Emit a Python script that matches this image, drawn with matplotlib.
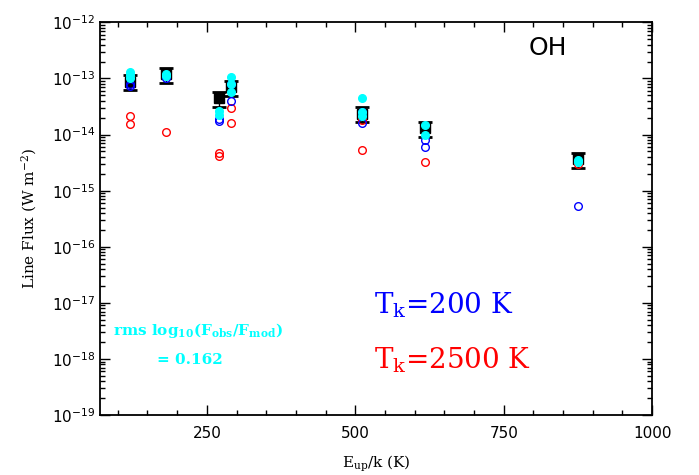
import matplotlib
matplotlib.use('Agg')
import matplotlib.pyplot as plt
from matplotlib.ticker import MultipleLocator, FixedLocator, LogLocator, NullFormatter

# OH lines: upper level energies (K) and observed fluxes (W m^-2)
eup = [120.7, 181.7, 269.8, 290.5, 511.0, 617.6, 875.0]
obs_flux = [8.7e-14, 1.19e-13, 4.4e-14, 6.9e-14, 2.37e-14, 1.3e-14, 3.6e-15]
obs_err = [2.6e-14, 3.6e-14, 1.3e-14, 2.05e-14, 7e-15, 4e-15, 1.1e-15]

# combined model (cyan)
cyan_e = [120.7, 120.7, 120.7, 181.7, 181.7, 269.8, 269.8, 290.5, 290.5, 290.5,
          511.0, 511.0, 511.0, 617.6, 617.6, 875.0, 875.0]
cyan_f = [1.3e-13, 1.15e-13, 1.0e-13, 1.2e-13, 1.1e-13, 2.6e-14, 2.2e-14,
          1.05e-13, 8e-14, 5.7e-14, 4.4e-14, 2.5e-14, 2.1e-14, 1.5e-14, 1.0e-14,
          3.5e-15, 3.2e-15]

# Tk = 200 K component (blue)
blue_e = [120.7, 120.7, 181.7, 269.8, 269.8, 290.5, 290.5, 511.0, 511.0,
          617.6, 617.6, 875.0]
blue_f = [8e-14, 7.2e-14, 1.0e-13, 1.9e-14, 1.75e-14, 8e-14, 4e-14, 2.5e-14,
          1.6e-14, 8e-15, 6e-15, 5.4e-16]

# Tk = 2500 K component (red)
red_e = [120.7, 120.7, 181.7, 269.8, 269.8, 290.5, 290.5, 511.0, 511.0,
         617.6, 875.0]
red_f = [2.1e-14, 1.55e-14, 1.1e-14, 4.6e-15, 4.2e-15, 3.0e-14, 1.6e-14,
         1.8e-14, 5.2e-15, 3.3e-15, 3.0e-15]

decades = [1e-19, 1e-18, 1e-17, 1e-16, 1e-15, 1e-14, 1e-13, 1e-12]

plt.rcParams['mathtext.fontset'] = 'dejavuserif'

fig = plt.figure(figsize=(6.99, 4.75), dpi=100)
ax = fig.add_axes([0.143, 0.126, 0.79, 0.827])

ax.errorbar(eup, obs_flux, yerr=obs_err, fmt='s', color='black', ms=6.5,
            ecolor='black', elinewidth=1, capsize=5, capthick=2, zorder=2)
ax.plot(red_e, red_f, 'o', mfc='none', mec='red', ms=5.5, mew=1, zorder=3)
ax.plot(blue_e, blue_f, 'o', mfc='none', mec='blue', ms=5.5, mew=1, zorder=4)
ax.plot(cyan_e, cyan_f, 'o', color='cyan', ms=5.5, zorder=5)

ax.set_yscale('log')
ax.set_xlim(70, 1000)
ax.set_ylim(1e-19, 1e-12)
ax.set_xticks([250, 500, 750, 1000])
ax.xaxis.set_minor_locator(MultipleLocator(50))
ax.yaxis.set_major_locator(FixedLocator(decades))
ax.yaxis.set_minor_locator(LogLocator(base=10, subs=range(2, 10), numticks=20))
ax.yaxis.set_minor_formatter(NullFormatter())
ax.tick_params(which='both', direction='in', top=True, right=True, labelsize=11)
ax.tick_params(which='major', length=7, width=1)
ax.tick_params(axis='x', which='major', pad=8)
ax.tick_params(which='minor', length=3.5, width=1)
for s in ax.spines.values():
    s.set_linewidth(1.3)

ax.set_xlabel(r'E$_{\rm up}$/k (K)', family='DejaVu Serif', fontsize=11,
              labelpad=9)
ax.set_ylabel(r'Line Flux (W m$^{-2}$)', family='DejaVu Serif', fontsize=11,
              labelpad=9)

ax.text(0.812, 0.934, 'OH', transform=ax.transAxes, ha='center', va='center',
        fontsize=18, family='DejaVu Sans')
ax.text(0.497, 0.28, r'T$_{\rm k}$=200 K', transform=ax.transAxes, ha='left',
        va='center', fontsize=20, color='blue', family='DejaVu Serif')
ax.text(0.497, 0.14, r'T$_{\rm k}$=2500 K', transform=ax.transAxes, ha='left',
        va='center', fontsize=20, color='red', family='DejaVu Serif')
ax.text(0.178, 0.216, r'rms log$_{\bf 10}$(F$_{\bf obs}$/F$_{\bf mod}$)',
        transform=ax.transAxes, ha='center', va='center', fontsize=11,
        color='cyan', family='DejaVu Serif', fontweight='bold')
ax.text(0.163, 0.14, '= 0.162', transform=ax.transAxes, ha='center',
        va='center', fontsize=11, color='cyan', family='DejaVu Serif',
        fontweight='bold')

fig.savefig('out.png', dpi=100)
